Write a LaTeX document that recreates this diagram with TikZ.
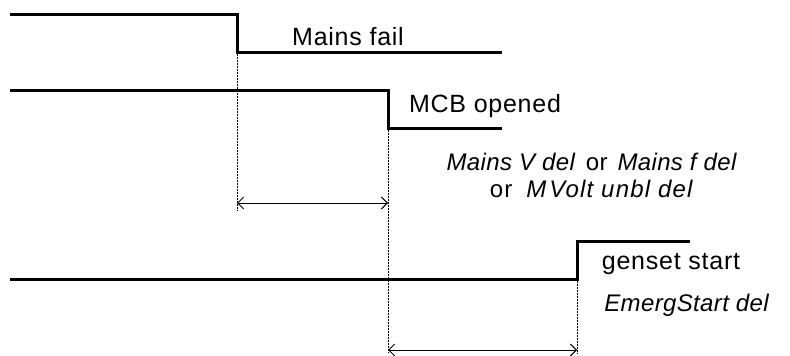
\documentclass[tikz,border=0pt]{standalone}
\usepackage{fontspec}
\setmainfont{Liberation Sans}[LetterSpace=3]
\newfontfamily\plainsans{Liberation Sans}[LetterSpace=1.5]
\newfontfamily\widesans{Liberation Sans}[LetterSpace=5]
\usetikzlibrary{arrows.meta}
\begin{document}
\begin{tikzpicture}[x=1pt,y=-1pt,
  signal/.style={line width=3pt},
  guide/.style={line width=0.5pt,densely dotted},
  span/.style={line width=1pt,{Straight Barb[length=6pt,width=12pt]}-{Straight Barb[length=6pt,width=12pt]}},
  lbl/.style={font=\fontsize{25}{29}\selectfont,inner sep=0pt},
  dlbl/.style={font=\plainsans\fontsize{24}{27}\selectfont,inner sep=0pt,align=center}]
\useasboundingbox (0,0) rectangle (790,356);
% signal 1
\coordinate (a0) at (10,14);
\coordinate (a1) at (237,14);
\coordinate (a2) at (237,52);
\coordinate (a3) at (502,52);
\draw[signal] (a0) -- (a1) -- (a2) -- (a3);
% signal 2
\coordinate (b0) at (10,90);
\coordinate (b1) at (388,90);
\coordinate (b2) at (388,128);
\coordinate (b3) at (502,128);
\draw[signal] (b0) -- (b1) -- (b2) -- (b3);
% signal 3
\coordinate (c0) at (10,279);
\coordinate (c1) at (577,279);
\coordinate (c2) at (577,241);
\coordinate (c3) at (690,241);
\draw[signal] (c0) -- (c1) -- (c2) -- (c3);
% guides
\coordinate (g1) at (237,210);
\coordinate (g2) at (388,353);
\coordinate (g3) at (577,353);
\draw[guide] (a2) -- (g1);
\draw[guide] (b2) -- (g2);
\draw[guide] (c1) -- (g3);
% spans
\coordinate (s1l) at (237,203);
\coordinate (s1r) at (388,203);
\coordinate (s2l) at (388,350);
\coordinate (s2r) at (577,350);
\draw[span] (s1l) -- (s1r);
\draw[span] (s2l) -- (s2r);
% labels
\node[lbl] (t1) at (348,37) {Mains fail};
\node[lbl] (t2) at (485,106) {MCB opened};
\node[dlbl] (t3) at (592,175) {\textit{Mains V del}\hspace{10pt}or\hspace{10pt}\textit{Mains f del}\\{\widesans or\hspace{14pt}\textit{M\kern3pt Volt unbl del}}};
\node[lbl] (t4) at (671,264) {genset start};
\node[dlbl] (t5) at (687,305) {\textit{EmergStart del}};
\end{tikzpicture}
\end{document}
